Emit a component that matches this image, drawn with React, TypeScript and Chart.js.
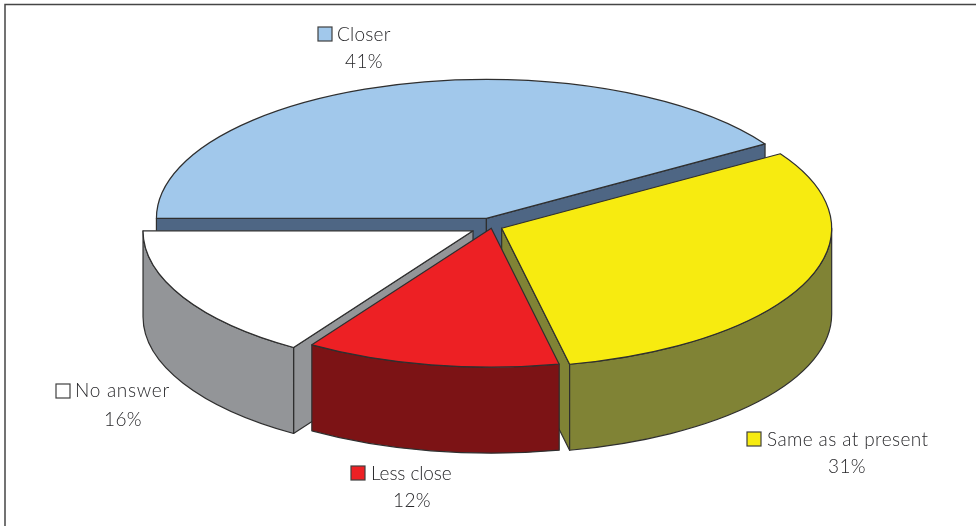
import React, { useEffect, useRef } from "react";
import { Chart, registerables } from "chart.js";

Chart.register(...registerables);

const categories = ["Closer", "Same as at present", "Less close", "No answer"];
const shares = [41, 30.7, 12.45, 15.85];
const shareLabels = ["41%", "31%", "12%", "16%"];
const topColors = ["#a1c8eb", "#f7eb10", "#ed2024", "#ffffff"];
const wallColors = ["#4e6684", "#808335", "#7c1315", "#939598"];
const explode = [20, 10.5, 4, 21.6];
const wallOrder = [0, 1, 3, 2];

const labelSpots = [
  { sq: [318, 27], tx: 337, by: 41, cx: 364, py: 68 },
  { sq: [747, 432], tx: 767, by: 446, cx: 847, py: 473 },
  { sq: [351, 466], tx: 371, by: 480, cx: 412, py: 507 },
  { sq: [56, 384], tx: 75, by: 397, cx: 123, py: 426 },
];
const labelSpacing = ["0.2px", "0.4px", "-0.1px", "0.7px"];

const SQUASH = 139 / 330;
const DEPTH = 86;
const LINE = "#2f2f2f";
const TEXT = "#27272a";

const pie3d = {
  id: "pie3d",
  afterDatasetsUpdate(chart: any) {
    chart.getDatasetMeta(0).data.forEach((arc: any, i: number) => {
      const mid = (arc.startAngle + arc.endAngle) / 2;
      arc.x += Math.cos(mid) * explode[i];
      arc.y += Math.sin(mid) * explode[i];
    });
  },
  beforeDatasetsDraw(chart: any) {
    const ctx = chart.ctx;
    const area = chart.chartArea;
    const cy = (area.top + area.bottom) / 2;
    const arcs = chart.getDatasetMeta(0).data;
    ctx.save();
    ctx.lineWidth = 1.2;
    ctx.strokeStyle = LINE;
    ctx.lineJoin = "round";
    wallOrder.forEach((i) => {
      const arc = arcs[i];
      const R = arc.outerRadius;
      const x0 = arc.x;
      const y0 = cy + (arc.y - cy) * SQUASH;
      const ry = R * SQUASH;
      ctx.fillStyle = wallColors[i];
      const faces: number[] = [];
      if (Math.cos(arc.startAngle) < 0) faces.push(arc.startAngle);
      if (Math.cos(arc.endAngle) > 0) faces.push(arc.endAngle);
      faces.forEach((a: number) => {
        const rx = x0 + Math.cos(a) * R;
        const rimY = y0 + Math.sin(a) * ry;
        ctx.beginPath();
        ctx.moveTo(x0, y0);
        ctx.lineTo(rx, rimY);
        ctx.lineTo(rx, rimY + DEPTH);
        ctx.lineTo(x0, y0 + DEPTH);
        ctx.closePath();
        ctx.fill();
        ctx.stroke();
      });
      const from = Math.max(arc.startAngle, 0);
      const to = Math.min(arc.endAngle, Math.PI);
      if (to > from) {
        ctx.beginPath();
        ctx.ellipse(x0, y0, R, ry, 0, from, to);
        ctx.ellipse(x0, y0 + DEPTH, R, ry, 0, to, from, true);
        ctx.closePath();
        ctx.fill();
        ctx.stroke();
      }
    });
    ctx.restore();
    ctx.save();
    ctx.translate(0, cy);
    ctx.scale(1, SQUASH);
    ctx.translate(0, -cy);
  },
  afterDatasetsDraw(chart: any) {
    const ctx = chart.ctx;
    ctx.restore();
    const area = chart.chartArea;
    const cy = (area.top + area.bottom) / 2;
    const arcs = chart.getDatasetMeta(0).data;
    ctx.save();
    ctx.lineWidth = 1.2;
    ctx.strokeStyle = LINE;
    ctx.lineJoin = "round";
    arcs.forEach((arc: any) => {
      const R = arc.outerRadius;
      const y0 = cy + (arc.y - cy) * SQUASH;
      ctx.beginPath();
      ctx.moveTo(arc.x, y0);
      ctx.ellipse(arc.x, y0, R, R * SQUASH, 0, arc.startAngle, arc.endAngle);
      ctx.closePath();
      ctx.stroke();
    });
    ctx.restore();

    // page frame
    ctx.save();
    ctx.strokeStyle = "#454545";
    ctx.lineWidth = 1.5;
    ctx.beginPath();
    ctx.moveTo(5, 526);
    ctx.lineTo(5, 4.5);
    ctx.lineTo(976, 4.5);
    ctx.stroke();

    // data labels with colour keys
    ctx.textBaseline = "alphabetic";
    categories.forEach((name, i) => {
      const s = labelSpots[i];
      ctx.fillStyle = topColors[i];
      ctx.fillRect(s.sq[0], s.sq[1], 14, 14);
      ctx.strokeStyle = "#404040";
      ctx.lineWidth = 1.2;
      ctx.strokeRect(s.sq[0], s.sq[1], 14, 14);
      ctx.fillStyle = TEXT;
      ctx.font = '300 19px "Lato"';
      ctx.textAlign = "left";
      ctx.letterSpacing = labelSpacing[i];
      ctx.fillText(name, s.tx, s.by);
      ctx.letterSpacing = "0.4px";
      ctx.textAlign = "center";
      ctx.fillText(shareLabels[i], s.cx, s.py);
    });
    ctx.restore();
  },
};

export default function App() {
  const ref = useRef<HTMLCanvasElement>(null);
  useEffect(() => {
    const chart = new Chart(ref.current as HTMLCanvasElement, {
      type: "pie",
      data: {
        labels: categories,
        datasets: [
          {
            data: shares,
            backgroundColor: topColors,
            borderWidth: 0,
            radius: 330,
            clip: false,
          } as any,
        ],
      },
      options: {
        animation: false,
        responsive: false,
        rotation: -90,
        layout: { padding: { left: 8, bottom: 73 } },
        plugins: { legend: { display: false }, tooltip: { enabled: false } },
      },
      plugins: [pie3d],
    } as any);
    return () => chart.destroy();
  }, []);
  return (
    <div style={{ position: "absolute", left: 0, top: 0, width: 976, height: 526, background: "#fff" }}>
      <canvas ref={ref} width={976} height={526} style={{ display: "block" }} />
    </div>
  );
}
